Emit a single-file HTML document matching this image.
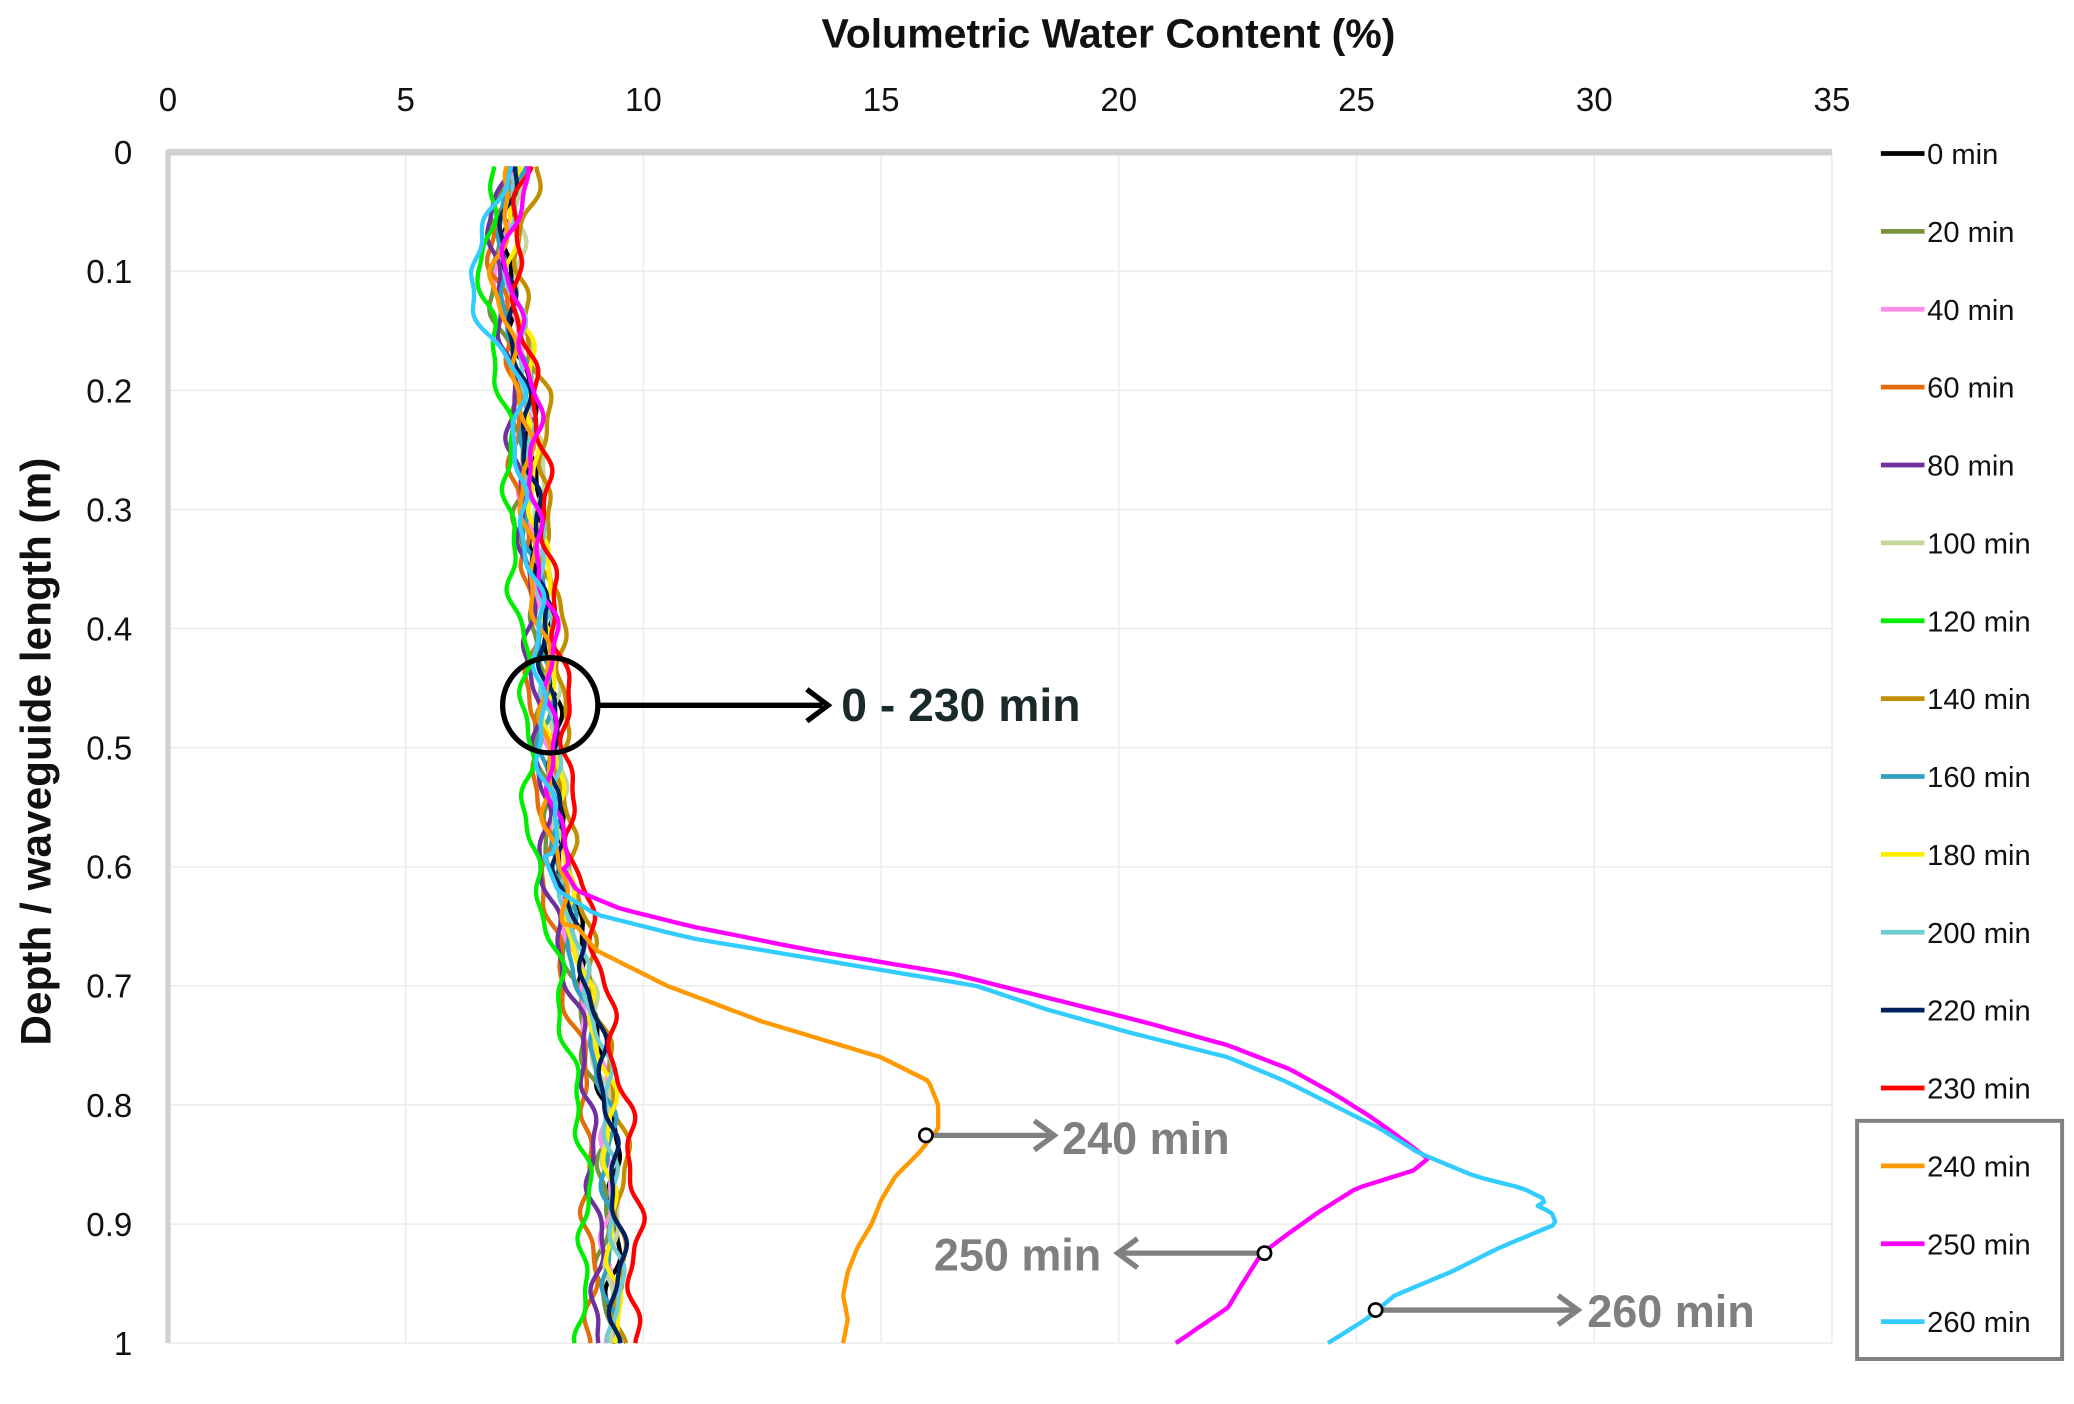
<!DOCTYPE html>
<html><head><meta charset="utf-8"><style>
html,body{margin:0;padding:0;background:#fff;}
svg{display:block;}
text{font-family:"Liberation Sans",sans-serif;}
</style></head><body>
<svg id="s" width="2074" height="1404" viewBox="0 0 1568 1061" preserveAspectRatio="none" xmlns="http://www.w3.org/2000/svg">
<g id="grid" stroke="#ececec" stroke-width="1.2"></g>
<line x1="127" y1="115" x2="1385" y2="115" stroke="#d0d0d0" stroke-width="5"/>
<line x1="127" y1="113" x2="127" y2="1015" stroke="#d0d0d0" stroke-width="4"/>
<g id="series" fill="none" stroke-width="3.3" stroke-linejoin="round"></g>
<text x="838" y="36" font-size="31" font-weight="bold" text-anchor="middle" fill="#111">Volumetric Water Content (%)</text>
<g font-size="25" fill="#111" text-anchor="middle" id="xt"></g>
<g font-size="25" fill="#111" text-anchor="end" id="yt"></g>
<text transform="translate(38,568) rotate(-90)" font-size="32" font-weight="bold" text-anchor="middle" fill="#111">Depth / waveguide length (m)</text>
<g id="leg" font-size="22" fill="#111"></g>
<rect x="1404" y="847" width="155" height="180" fill="none" stroke="#808080" stroke-width="3"/>
<circle cx="416" cy="533" r="36" fill="none" stroke="#000" stroke-width="4"/>
<line x1="452" y1="533" x2="622" y2="533" stroke="#000" stroke-width="4"/>
<polyline points="610,521 626,533 610,545" fill="none" stroke="#000" stroke-width="4"/>
<text x="636" y="545" font-size="35" font-weight="bold" fill="#1a2a2a">0 - 230 min</text>
<g stroke="#808080" stroke-width="4" fill="none">
<line x1="706" y1="858" x2="794" y2="858"/><polyline points="782,847 797,858 782,869"/>
<line x1="951" y1="947" x2="848" y2="947"/><polyline points="860,936 845,947 860,958"/>
<line x1="1045" y1="990" x2="1190" y2="990"/><polyline points="1178,979 1193,990 1178,1001"/>
</g>
<g fill="#fff" stroke="#000" stroke-width="2">
<circle cx="700" cy="858" r="5"/><circle cx="956" cy="947" r="5"/><circle cx="1040" cy="990" r="5"/>
</g>
<g font-size="34" font-weight="bold" fill="#7f7f7f">
<text x="803" y="872">240 min</text>
<text x="706" y="960">250 min</text>
<text x="1200" y="1003">260 min</text>
</g>
</svg>
<script>
var NS="http://www.w3.org/2000/svg";
function X(v){return 127+v*1258/35;}
function Y(d){return 115+d*900;}
function el(p,t,a,txt){var e=document.createElementNS(NS,t);for(var k in a)e.setAttribute(k,a[k]);if(txt!==undefined)e.textContent=txt;document.getElementById(p).appendChild(e);return e;}
for(var i=1;i<=7;i++)el("grid","line",{x1:X(i*5),y1:115,x2:X(i*5),y2:1015});
for(var i=1;i<=10;i++)el("grid","line",{x1:127,y1:Y(i/10),x2:1385,y2:Y(i/10)});
for(var i=0;i<=7;i++)el("xt","text",{x:X(i*5),y:84},String(i*5));
var yl=["0","0.1","0.2","0.3","0.4","0.5","0.6","0.7","0.8","0.9","1"];
for(var i=0;i<=10;i++)el("yt","text",{x:100,y:Y(i/10)+9},yl[i]);
var names=["0 min","20 min","40 min","60 min","80 min","100 min","120 min","140 min","160 min","180 min","200 min","220 min","230 min","240 min","250 min","260 min"];
var cols=["#000000","#77933c","#ff8ce8","#e46c0a","#7030a0","#c3d69b","#00ee00","#c09000","#31a0c0","#ffee00","#70cdd0","#002060","#ff0000","#ff9900","#ff00ff","#33ccff"];
for(var i=0;i<16;i++){var y=116+i*58.85;el("leg","line",{x1:1422,y1:y,x2:1455,y2:y,stroke:cols[i],"stroke-width":3.5});el("leg","text",{x:1457,y:y+8},names[i]);}
function base(d){var pts=[[0,7.4],[0.05,7.1],[0.1,7.0],[0.2,7.5],[0.3,7.6],[0.4,7.9],[0.5,8.0],[0.6,8.2],[0.7,8.7],[0.8,9.2],[0.9,9.3],[1,9.3]];
for(var i=0;i<pts.length-1;i++){if(d<=pts[i+1][0]){var t=(d-pts[i][0])/(pts[i+1][0]-pts[i][0]);return pts[i][1]+t*(pts[i+1][1]-pts[i][1]);}}return 9.3;}
var offTop=[0.1,-0.2,0.0,-0.1,-0.2,0.3,-0.4,0.4,0.0,0.2,0.1,0.0,0.2,-0.1,0.2,-0.2];
var offBot=[0.1,-0.1,0.0,-0.45,-0.3,0.0,-0.55,0.25,0.0,0.05,0.1,0.15,0.55,0,0,0];
function lerpPts(pts,d){for(var i=0;i<pts.length-1;i++){if(d<=pts[i+1][0]){var t=(d-pts[i][0])/(pts[i+1][0]-pts[i][0]);return pts[i][1]+t*(pts[i+1][1]-pts[i][1]);}}return pts[pts.length-1][1];}
var special={
13:[[0.65,8.6],[0.67,9.0],[0.7,10.5],[0.73,12.5],[0.76,15.0],[0.78,16.0],[0.80,16.2],[0.82,16.2],[0.84,15.8],[0.86,15.3],[0.88,15.0],[0.9,14.8],[0.92,14.5],[0.94,14.3],[0.96,14.2],[0.98,14.3],[1.0,14.2]],
14:[[0.6,8.3],[0.62,8.6],[0.635,9.5],[0.65,11],[0.67,13.5],[0.69,16.5],[0.71,18.5],[0.73,20.5],[0.75,22.3],[0.77,23.6],[0.79,24.5],[0.81,25.3],[0.83,26.0],[0.845,26.5],[0.855,26.2],[0.87,25],[0.89,24.2],[0.91,23.5],[0.925,23.0],[0.95,22.6],[0.97,22.3],[1.0,21.2]],
15:[[0.59,7.9],[0.62,8.2],[0.64,9.0],[0.66,11],[0.68,14],[0.70,17],[0.72,18.5],[0.74,20.3],[0.76,22.3],[0.78,23.5],[0.80,24.5],[0.82,25.5],[0.84,26.3],[0.86,27.5],[0.87,28.5],[0.88,29],[0.885,28.8],[0.89,29.1],[0.9,29.2],[0.92,28],[0.94,27],[0.96,25.8],[0.98,25.2],[1.0,24.4]]};
for(var s=0;s<16;s++){
 var d="",start=special[s]?special[s][0][0]:2;
 for(var k=0;k<=300;k++){var dd=0.012+k*(0.988/300);var v;
  if(dd>=start){v=lerpPts(special[s],dd);}
  else{v=base(dd)+offTop[s]*(1-dd)+offBot[s]*dd+0.12*Math.sin(dd*70+s*1.7)+0.05*Math.sin(dd*150+s*3.1)+0.06*Math.sin(dd*31+s);
   if(s==15&&dd<0.25)v-=0.6*Math.exp(-Math.pow((dd-0.12)/0.04,2));}
  d+=(k?"L":"M")+X(v).toFixed(1)+","+Y(dd).toFixed(1);}
 el("series","path",{d:d,stroke:cols[s]});
}
</script>
</body></html>
